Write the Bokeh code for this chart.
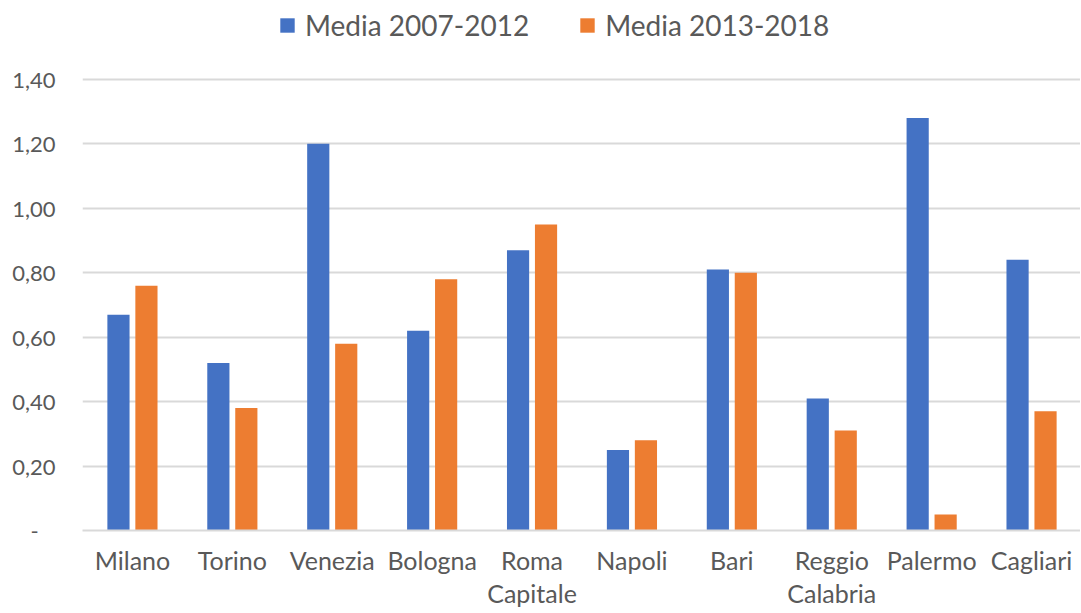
from bokeh.plotting import figure
from bokeh.models import ColumnDataSource, Legend, LegendItem, FixedTicker, CustomJSTickFormatter
from bokeh.transform import dodge
from bokeh.embed import file_html
from bokeh.resources import INLINE

cities = ["Milano", "Torino", "Venezia", "Bologna", "Roma\nCapitale", "Napoli",
          "Bari", "Reggio\nCalabria", "Palermo", "Cagliari"]
media_2007_2012 = [0.67, 0.52, 1.20, 0.62, 0.87, 0.25, 0.81, 0.41, 1.28, 0.84]
media_2013_2018 = [0.76, 0.38, 0.58, 0.78, 0.95, 0.28, 0.80, 0.31, 0.05, 0.37]
y_ticks = [0, 0.2, 0.4, 0.6, 0.8, 1.0, 1.2, 1.4]

idx = list(range(len(cities)))
src = ColumnDataSource(dict(idx=idx, a=media_2007_2012, b=media_2013_2018))

FONT = "Lato"
TXT = "#595959"
GRID = "#D9D9D9"

# y range extends above 1,40 so the legend sits inside the frame
p = figure(width=1080, height=612, output_backend="svg", toolbar_location=None,
           x_range=(-0.5, 9.49), y_range=(0, 1.645),
           min_border_left=82, min_border_right=0, min_border_top=0, min_border_bottom=82)
p.outline_line_color = None
p.background_fill_color = "white"
p.border_fill_color = "white"

r1 = p.vbar(x=dodge("idx", -0.14, range=p.x_range), top="a", width=0.222, source=src,
            fill_color="#4472C4", line_color=None)
r2 = p.vbar(x=dodge("idx", 0.14, range=p.x_range), top="b", width=0.222, source=src,
            fill_color="#ED7D31", line_color=None)

p.xgrid.grid_line_color = None
p.ygrid.grid_line_color = GRID
p.ygrid.grid_line_width = 2
p.ygrid.ticker = FixedTicker(ticks=y_ticks)

p.yaxis.ticker = FixedTicker(ticks=y_ticks)
p.yaxis.formatter = CustomJSTickFormatter(code="""
if (Math.abs(tick) < 1e-9) { return "-\u00a0\u00a0\u00a0"; }
return tick.toFixed(2).replace('.', ',');
""")
p.yaxis.axis_line_color = None
p.yaxis.major_tick_line_color = None
p.yaxis.minor_tick_line_color = None
p.yaxis.major_tick_out = 0
p.yaxis.major_tick_in = 0
p.yaxis.minor_tick_out = 0
p.yaxis.major_label_standoff = 27
p.yaxis.major_label_text_font = FONT
p.yaxis.major_label_text_font_size = "22px"
p.yaxis.major_label_text_color = TXT

p.xaxis.ticker = FixedTicker(ticks=idx)
p.xaxis.major_label_overrides = {i: c for i, c in zip(idx, cities)}
p.xaxis.axis_line_color = GRID
p.xaxis.axis_line_width = 2
p.xaxis.major_tick_line_color = None
p.xaxis.minor_tick_line_color = None
p.xaxis.major_tick_out = 0
p.xaxis.major_tick_in = 0
p.xaxis.minor_tick_out = 0
p.xaxis.major_label_standoff = 14
p.xaxis.major_label_text_font = FONT
p.xaxis.major_label_text_font_size = "25px"
p.xaxis.major_label_text_color = TXT
p.xaxis.major_label_text_line_height = 1.1

legend = Legend(items=[LegendItem(label="Media 2007-2012", renderers=[r1]),
                       LegendItem(label="Media 2013-2018", renderers=[r2])],
                orientation="horizontal", location=(196, 488),
                spacing=49, label_standoff=9, glyph_width=18, glyph_height=18,
                label_text_font=FONT, label_text_font_size="28px", label_text_color=TXT,
                border_line_color=None, background_fill_alpha=0,
                padding=0, margin=0)
p.add_layout(legend, "center")

open("out.html", "w").write(file_html(p, INLINE))
